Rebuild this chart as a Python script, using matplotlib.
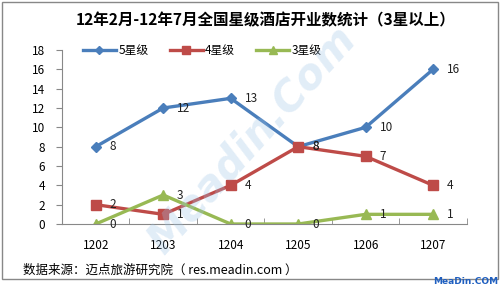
import matplotlib.pyplot as plt
from matplotlib.patches import Rectangle

plt.rcParams['font.family'] = ['Noto Sans CJK SC', 'DejaVu Sans']

months = ['1202', '1203', '1204', '1205', '1206', '1207']
star5 = [8, 12, 13, 8, 10, 16]
star4 = [2, 1, 4, 8, 7, 4]
star3 = [0, 3, 0, 0, 1, 1]

fig = plt.figure(figsize=(5.01, 2.88), dpi=100)
ax = fig.add_axes([0.1238, 0.2222, 0.808, 0.6042])

x = list(range(len(months)))
series = [
    (star5, '5星级', '#4A7EBB', 'D', 5),
    (star4, '4星级', '#BE4B48', 's', 7),
    (star3, '3星级', '#98B954', '^', 7),
]
for vals, name, col, mk, ms in series:
    ax.plot(x, vals, color=col, lw=2.4, marker=mk, markersize=ms, label=name)
    for xi, v in zip(x, vals):
        ax.annotate(str(v), (xi, v), xytext=(10, 0), textcoords='offset points',
                    va='center', ha='left', fontsize=8.5, color='#222222')

ax.set_xlim(-0.5, len(months) - 0.5)
ax.set_ylim(0, 18)
ax.set_yticks(range(0, 19, 2))
ax.set_xticks(x)
ax.set_xticklabels(months)
ax.set_xticks([i - 0.5 for i in range(len(months) + 1)], minor=True)
ax.tick_params(axis='y', labelsize=8.5, length=4, color='#888888', pad=8)
ax.tick_params(axis='x', which='major', labelsize=8.5, length=0, pad=11)
ax.tick_params(axis='x', which='minor', direction='in', length=4, color='#888888')
for s in ['top', 'right']:
    ax.spines[s].set_visible(False)
for s in ['left', 'bottom']:
    ax.spines[s].set_color('#888888')

ax.legend(loc='lower left', bbox_to_anchor=(0.04, 0.93), ncol=3, frameon=False,
          fontsize=8.5, handlelength=2.8, columnspacing=1.8, handletextpad=0.2,
          borderaxespad=0, markerscale=0.8)

fig.text(0.53, 0.93, '12年2月-12年7月全国星级酒店开业数统计（3星以上）',
         ha='center', va='center', fontsize=11.2, fontweight='semibold')
fig.text(0.045, 0.063, '数据来源：迈点旅游研究院（ res.meadin.com ）',
         ha='left', va='center', fontsize=9)
fig.text(0.995, 0.022, 'MeaDin.COM', ha='right', va='center', fontsize=6.5,
         fontweight='bold', color='#1F5FC0', family='DejaVu Sans')
fig.text(0.503, 0.514, 'Meadin.Com', ha='center', va='center', fontsize=30,
         fontweight='bold', fontstyle='italic', color='#9DC3E6', alpha=0.3,
         rotation=48, family='DejaVu Sans')

fig.patches.append(Rectangle((0.004, 0.03), 0.99, 0.964, transform=fig.transFigure,
                             fill=False, edgecolor='#888888', lw=1))

fig.savefig('out.png', dpi=100)
